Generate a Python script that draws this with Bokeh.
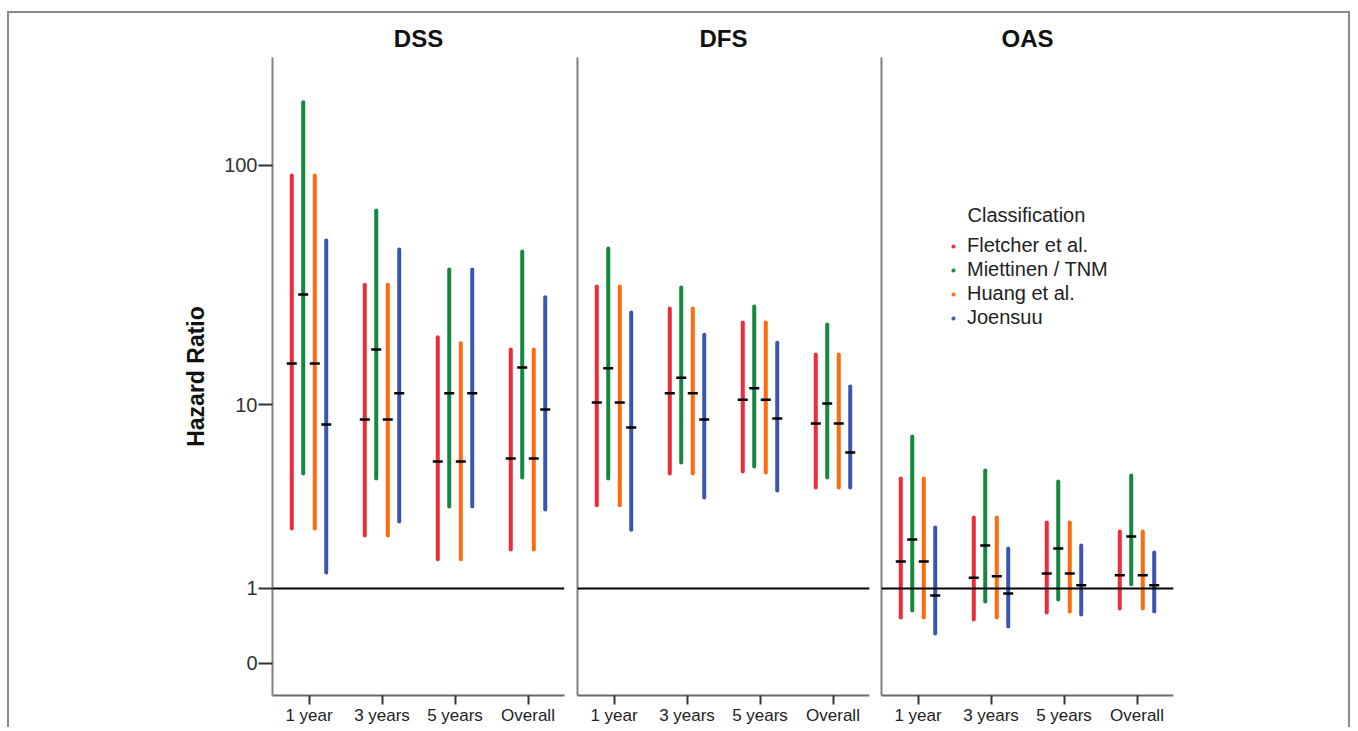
import numpy as np
from bokeh.plotting import figure
from bokeh.models import (ColumnDataSource, FactorRange, Range1d, FixedTicker, Span,
                          Legend, LegendItem, Label, CustomJSTickFormatter)
from bokeh.transform import dodge
from bokeh.layouts import row
from bokeh.embed import file_html
from bokeh.resources import INLINE

# ---------------- data ----------------
categories = ["1 year", "3 years", "5 years", "Overall"]
panels = ["DSS", "DFS", "OAS"]
classes = ["Fletcher et al.", "Miettinen / TNM", "Huang et al.", "Joensuu"]
colors = ["#ee2b3b", "#13893f", "#ff6a0d", "#3b54b0"]

# DSS
dss_hr = {"Fletcher et al.": [15.1, 8.57, 5.49, 5.67],
          "Miettinen / TNM": [29.5, 17.3, 11.2, 14.5],
          "Huang et al.": [15.1, 8.57, 5.49, 5.67],
          "Joensuu": [8.14, 11.2, 11.2, 9.51]}
dss_lo = {"Fletcher et al.": [2.49, 2.27, 1.62, 1.87],
          "Miettinen / TNM": [4.80, 4.54, 3.28, 4.59],
          "Huang et al.": [2.49, 2.27, 1.62, 1.87],
          "Joensuu": [1.32, 2.72, 3.28, 3.16]}
dss_hi = {"Fletcher et al.": [90.8, 32.4, 19.5, 17.3],
          "Miettinen / TNM": [180.0, 65.4, 37.4, 44.4],
          "Huang et al.": [90.8, 32.4, 18.4, 17.3],
          "Joensuu": [49.3, 45.3, 37.4, 28.7]}
# DFS
dfs_hr = {"Fletcher et al.": [10.2, 11.2, 10.5, 8.23],
          "Miettinen / TNM": [14.4, 13.1, 11.8, 10.1],
          "Huang et al.": [10.2, 11.2, 10.5, 8.23],
          "Joensuu": [7.89, 8.57, 8.66, 6.05]}
dfs_lo = {"Fletcher et al.": [3.32, 4.80, 4.91, 4.10],
          "Miettinen / TNM": [4.54, 5.43, 5.19, 4.59],
          "Huang et al.": [3.32, 4.80, 4.86, 4.10],
          "Joensuu": [2.45, 3.65, 3.96, 4.10]}
dfs_hi = {"Fletcher et al.": [31.8, 25.8, 22.5, 16.5],
          "Miettinen / TNM": [45.7, 31.5, 26.3, 22.1],
          "Huang et al.": [31.8, 25.8, 22.5, 16.5],
          "Joensuu": [24.8, 20.0, 18.5, 12.0]}
# OAS
oas_hr = {"Fletcher et al.": [1.57, 1.21, 1.30, 1.26],
          "Miettinen / TNM": [2.15, 1.98, 1.90, 2.24],
          "Huang et al.": [1.57, 1.24, 1.30, 1.26],
          "Joensuu": [0.874, 0.910, 1.06, 1.06]}
oas_lo = {"Fletcher et al.": [0.529, 0.501, 0.601, 0.662],
          "Miettinen / TNM": [0.631, 0.773, 0.806, 1.08],
          "Huang et al.": [0.529, 0.529, 0.616, 0.662],
          "Joensuu": [0.319, 0.407, 0.572, 0.616]}
oas_hi = {"Fletcher et al.": [4.54, 2.86, 2.69, 2.39],
          "Miettinen / TNM": [7.18, 4.97, 4.39, 4.70],
          "Huang et al.": [4.54, 2.86, 2.69, 2.39],
          "Joensuu": [2.52, 1.90, 1.98, 1.79]}

y_tick_values = [0, 1, 10, 100]
reference_hr = 1
y_min, y_max = -0.258, 273.0

panel_data = {"DSS": (dss_hr, dss_lo, dss_hi),
              "DFS": (dfs_hr, dfs_lo, dfs_hi),
              "OAS": (oas_hr, oas_lo, oas_hi)}

# ---------------- helpers ----------------
FONT = "Liberation Sans"


def tr(v):
    # log10(1 + x) scale used by the original chart
    return np.log10(1.0 + np.asarray(v, dtype=float))


offsets = [-0.236, -0.079, 0.079, 0.236]
widths = [561, 305, 473]
left_b = [263, 7, 6]
right_b = [6, 6, 175]
H = 714

fmt = CustomJSTickFormatter(code="return String(Math.round(Math.pow(10, tick) - 1));")

figs = []
legend_renderers = []
for i, panel in enumerate(panels):
    p = figure(width=widths[i], height=H,
               x_range=FactorRange(*categories, range_padding=0),
               y_range=Range1d(float(tr(y_min)), float(tr(y_max))),
               output_backend="svg", toolbar_location=None,
               min_border_left=left_b[i], min_border_right=right_b[i],
               min_border_top=44, min_border_bottom=32, title=panel)
    p.outline_line_color = None
    p.background_fill_color = "white"
    p.border_fill_color = "white"
    p.grid.visible = False
    p.title.align = "center"
    p.title.text_font = FONT
    p.title.text_font_size = "24px"
    p.title.text_font_style = "bold"
    p.title.text_color = "#111111"
    p.title.standoff = 12

    xa = p.xaxis[0]
    xa.axis_line_color = "#6a6a6a"
    xa.axis_line_width = 2
    xa.major_tick_line_color = "#333333"
    xa.major_tick_line_width = 2
    xa.major_tick_out = 9
    xa.major_tick_in = 0
    xa.minor_tick_line_color = None
    xa.major_label_text_font = FONT
    xa.major_label_text_font_size = "17px"
    xa.major_label_text_color = "#222222"
    xa.major_label_standoff = 1

    ya = p.yaxis[0]
    ya.axis_line_color = "#808080"
    ya.axis_line_width = 2
    ya.minor_tick_line_color = None
    if i == 0:
        ya.ticker = FixedTicker(ticks=list(tr(y_tick_values)))
        ya.formatter = fmt
        ya.major_tick_line_color = "#333333"
        ya.major_tick_line_width = 2
        ya.major_tick_out = 14
        ya.major_tick_in = 0
        ya.major_label_text_font = FONT
        ya.major_label_text_font_size = "20px"
        ya.major_label_text_color = "#333333"
        ya.major_label_standoff = 1
        ya.axis_label = "Hazard Ratio"
        ya.axis_label_text_font = FONT
        ya.axis_label_text_font_size = "23px"
        ya.axis_label_text_font_style = "bold"
        ya.axis_label_text_color = "#111111"
        ya.axis_label_standoff = 12
    else:
        ya.ticker = FixedTicker(ticks=[])
        ya.major_tick_out = 0
        ya.major_tick_in = 0
        ya.major_label_standoff = 0

    p.add_layout(Span(location=float(tr(reference_hr)), dimension="width",
                      line_color="black", line_width=2))

    hr_d, lo_d, hi_d = panel_data[panel]
    for k, cls in enumerate(classes):
        src = ColumnDataSource(dict(cat=categories,
                                    hr=tr(hr_d[cls]),
                                    lo=tr(lo_d[cls]),
                                    hi=tr(hi_d[cls])))
        xd = dodge("cat", offsets[k], range=p.x_range)
        p.segment(x0=xd, y0="lo", x1=xd, y1="hi", source=src,
                  line_color=colors[k], line_width=4, line_cap="round")
        p.scatter(x=xd, y="hr", source=src, marker="dash", size=10,
                  line_color="black", line_width=2.5)
        if i == 2:
            r = p.scatter(x=xd, y="hr", source=src, marker="circle", size=4,
                          fill_color=colors[k], line_color=colors[k])
            r.visible = False
            legend_renderers.append(r)
    figs.append(p)

p3 = figs[2]
legend = Legend(items=[LegendItem(label=cls, renderers=[legend_renderers[k]])
                       for k, cls in enumerate(classes)],
                location=(67, 366), orientation="vertical")
legend.border_line_color = None
legend.background_fill_alpha = 0
legend.padding = 0
legend.margin = 0
legend.spacing = 1
legend.glyph_width = 10
legend.glyph_height = 8
legend.label_height = 20
legend.label_standoff = 9
legend.label_text_font = FONT
legend.label_text_font_size = "20px"
legend.label_text_color = "#222222"
legend.inactive_fill_alpha = 0
p3.add_layout(legend, "center")

p3.add_layout(Label(x=86, y=481, x_units="screen", y_units="screen",
                    text="Classification", text_font=FONT, text_font_size="20px",
                    text_color="#222222", text_baseline="middle"))

layout = row(*figs, styles={"margin-top": "11px",
                            "margin-left": "7px",
                            "border-top": "2px solid #8a8a8a",
                            "border-left": "2px solid #8a8a8a",
                            "border-right": "2px solid #8a8a8a"})

open("out.html", "w").write(file_html(layout, INLINE))
